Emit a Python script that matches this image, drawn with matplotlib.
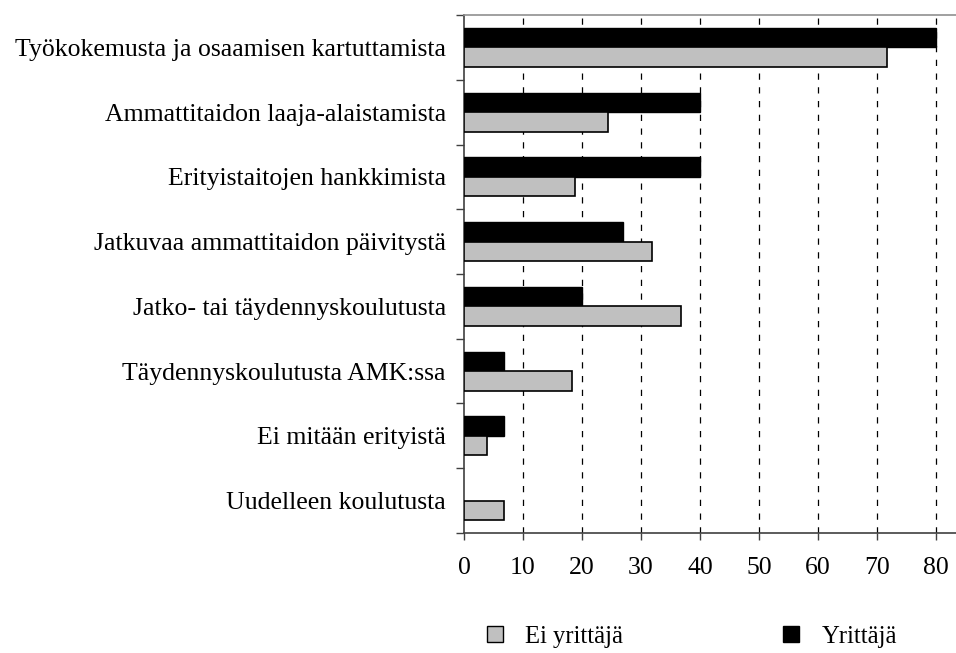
import matplotlib
matplotlib.use("Agg")
import matplotlib.pyplot as plt
import numpy as np
from matplotlib.patches import Patch

categories = [
    "Työkokemusta ja osaamisen kartuttamista",
    "Ammattitaidon laaja-alaistamista",
    "Erityistaitojen hankkimista",
    "Jatkuvaa ammattitaidon päivitystä",
    "Jatko- tai täydennyskoulutusta",
    "Täydennyskoulutusta AMK:ssa",
    "Ei mitään erityistä",
    "Uudelleen koulutusta",
]
ei_yrittaja = [71.7, 24.4, 18.8, 31.9, 36.8, 18.3, 3.9, 6.7]
yrittaja = [80.0, 40.0, 40.0, 26.9, 20.0, 6.7, 6.7, 0.0]
xticks = [0, 10, 20, 30, 40, 50, 60, 70, 80]

plt.rcParams['font.family'] = ['Liberation Serif', 'DejaVu Serif']

fig = plt.figure(figsize=(9.56, 6.53), dpi=100)
ax = fig.add_axes([0.4854, 0.1838, 0.5146, 0.7932])

n = len(categories)
y = np.arange(n)
h = 0.3
ax.barh(y - h / 2, yrittaja, height=h, color='black', edgecolor='black',
        linewidth=[1 if v > 0 else 0 for v in yrittaja], zorder=3)
ax.barh(y + h / 2, ei_yrittaja, height=h, color='#C0C0C0', edgecolor='black', linewidth=1.2, zorder=3)

ax.set_ylim(n - 0.5, -0.5)
ax.set_xlim(0, 83.4)
ax.set_xticks(xticks)
ax.set_xticklabels([str(v) for v in xticks], fontsize=18.5)

# category boundary ticks
ax.set_yticks(np.arange(n + 1) - 0.5)
ax.set_yticklabels([])
ax.set_yticks(y, minor=True)
ax.set_yticklabels(categories, minor=True, fontsize=18.5)
ax.tick_params(axis='y', which='minor', length=0, pad=13)
ax.tick_params(axis='y', which='major', length=6, width=1, color='#404040', direction='out')
ax.tick_params(axis='x', length=5, width=1, color='#404040', direction='out', pad=12)

for v in xticks[1:]:
    ax.axvline(v, color='black', linestyle=(0, (5, 6)), linewidth=0.9, zorder=1)

ax.spines['right'].set_visible(False)
for s in ['left', 'bottom', 'top']:
    ax.spines[s].set_color('#404040')
    ax.spines[s].set_linewidth(1.2)
ax.spines['top'].set_color('#909090')

handles = [
    Patch(facecolor='#C0C0C0', edgecolor='black', linewidth=1),
    Patch(facecolor='black', edgecolor='black', linewidth=1),
]
fig.legend(handles, ['Ei yrittäjä', 'Yrittäjä'], loc='center', bbox_to_anchor=(0.724, 0.025),
           ncol=2, frameon=False, fontsize=17.7, handlelength=0.65, handleheight=0.65,
           columnspacing=6.5, handletextpad=0.9)

fig.savefig('out.png', dpi=100)
